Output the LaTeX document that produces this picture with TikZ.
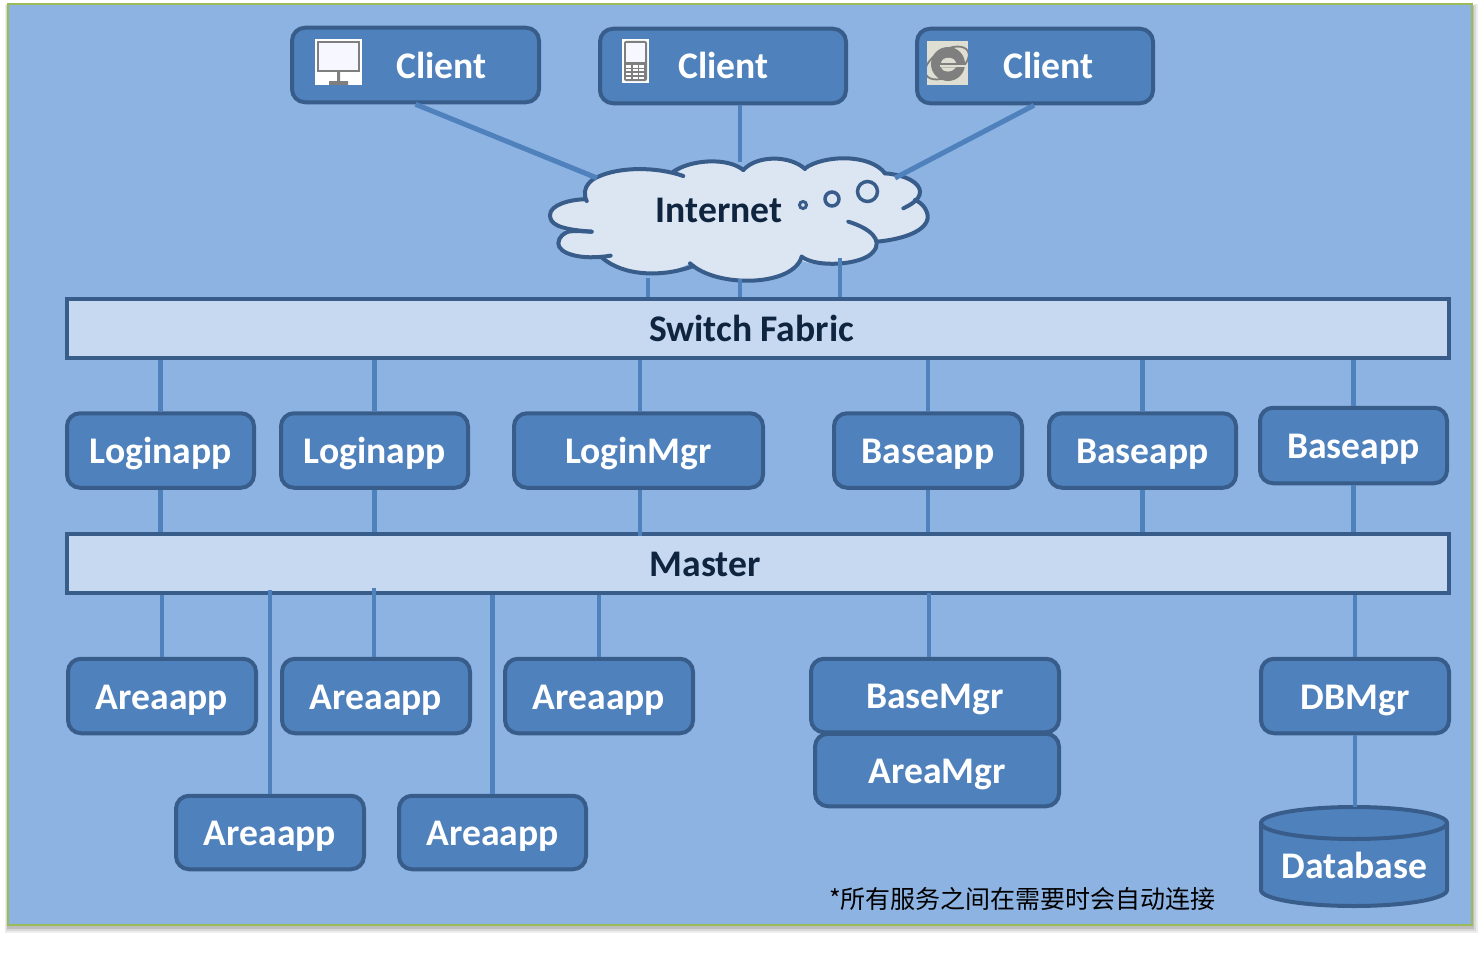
\documentclass[tikz,border=0pt]{standalone}
\usepackage{fontspec}
\setmainfont{Carlito}
\newfontfamily\cjkfont{Noto Sans CJK SC}
\definecolor{bgfill}{HTML}{8DB3E2}
\definecolor{bgline}{HTML}{9BBB59}
\definecolor{boxfill}{HTML}{4F81BD}
\definecolor{boxline}{HTML}{385D8A}
\definecolor{barfill}{HTML}{C6D9F1}
\definecolor{darktext}{HTML}{0F243E}
\definecolor{cloudfill}{HTML}{DCE6F2}
\definecolor{icongray}{HTML}{7F7F7F}
\definecolor{iconback}{HTML}{DEDED2}
\tikzset{
  lbl/.style={font=\fontsize{37.6}{40}\selectfont\bfseries,text height=26.5pt,text depth=0pt,inner sep=0pt},
  srv/.style={lbl,draw=boxline,fill=boxfill,line width=4pt,rounded corners=13pt,text=white,align=center},
  bar/.style={lbl,draw=boxline,fill=barfill,line width=4pt,text=darktext,minimum width=1382pt,minimum height=59pt},
  link/.style={draw=boxfill,line width=4.5pt},
  cloudline/.style={draw=boxline,line width=4pt,line cap=round},
}
\newcommand{\srvnode}[5]{\node[srv,minimum width=#3pt+1.5pt,minimum height=#4pt+2pt] (#1) at (#2) {#5};}
\begin{document}
\begin{tikzpicture}[x=1pt,y=-1pt]
\useasboundingbox (0,0) rectangle (1480,966);
% panel
\fill[black,opacity=.07] (5,4) rectangle (1478,933);
\fill[black,opacity=.09] (6,5) rectangle (1476,931);
\fill[black,opacity=.12] (7,6) rectangle (1474,929);
\draw[draw=bgline,fill=bgfill,line width=2.5pt] (8,4) rectangle (1472,925);
% named nodes
\node[bar] (sw) at (758,328.5) {};
\node[lbl,text=darktext] (swt) at (751.5,328.5) {Switch Fabric};
\node[bar] (ms) at (758,563.5) {};
\node[lbl,text=darktext] (mst) at (705,563.5) {Master};
\srvnode{c1}{415.5,65}{245.5}{72.5}{}
\srvnode{c2}{723,66}{244.5}{72.5}{}
\srvnode{c3}{1035,66}{234.5}{72.5}{}
\node[lbl,text=white] (c1t) at (441.5,65) {Client};
\node[lbl,text=white] (c2t) at (723.5,65) {Client};
\node[lbl,text=white] (c3t) at (1048.5,65) {Client};
\srvnode{l1}{160.5,450.5}{185.5}{72.5}{Loginapp}
\srvnode{l2}{374.5,450.5}{185.5}{72.5}{Loginapp}
\srvnode{lm}{638.5,450.5}{247.5}{72.5}{LoginMgr}
\srvnode{b1}{928,450.5}{186.5}{72.5}{Baseapp}
\srvnode{b2}{1142.5,450.5}{185.5}{72.5}{Baseapp}
\srvnode{b3}{1353.5,445.5}{185.5}{73.5}{Baseapp}
\srvnode{a1}{162,696}{186.5}{72.5}{Areaapp}
\srvnode{a2}{376,696}{186.5}{72.5}{Areaapp}
\srvnode{a3}{599,696}{186.5}{72.5}{Areaapp}
\srvnode{a4}{270,832.5}{186.5}{71.5}{Areaapp}
\srvnode{a5}{492.5,832.5}{185.5}{71.5}{Areaapp}
\srvnode{am}{937,770}{242.5}{70.5}{AreaMgr}
\srvnode{bm}{935,695.5}{246.5}{71.5}{BaseMgr}
\srvnode{dm}{1355,696}{186.5}{72.5}{DBMgr}
% database
\coordinate (dbtop) at (1354,807);
\draw[draw=boxline,fill=boxfill,line width=4pt] (1261,823) arc[x radius=93,y radius=16,start angle=180,end angle=360] -- (1447,890) arc[x radius=93,y radius=16,start angle=0,end angle=180] -- cycle;
\draw[draw=boxline,line width=4pt] (1261,823) arc[x radius=93,y radius=16,start angle=180,end angle=0];
\node[lbl,text=white] (db) at (1354.5,865) {Database};
% cloud
\begin{scope}[shift={(530,140)},x=.33333pt,y=-.33333pt]
\fill[cloudfill] (165,182) .. controls (150,140) and (190,115) .. (205,110) .. controls (270,80) and (380,80) .. (440,100)
 .. controls (480,60) and (590,50) .. (640,90) .. controls (680,45) and (780,45) .. (830,85)
 .. controls (880,45) and (1020,40) .. (1065,100) .. controls (1130,105) and (1170,130) .. (1170,155)
 .. controls (1170,165) and (1165,175) .. (1155,180)
 .. controls (1180,190) and (1195,215) .. (1193,235) .. controls (1185,280) and (1100,300) .. (1040,305)
 .. controls (1040,320) and (1035,330) .. (1030,335)
 .. controls (1000,375) and (860,385) .. (810,360) .. controls (790,440) and (560,445) .. (480,370)
 .. controls (400,412) and (280,410) .. (215,352) .. controls (150,362) and (85,340) .. (85,310)
 .. controls (85,290) and (105,278) .. (115,275) .. controls (80,265) and (60,250) .. (60,225)
 .. controls (60,195) and (120,178) .. (165,178) -- cycle;
\draw[cloudline] (170,183) .. controls (150,140) and (190,115) .. (205,110) .. controls (270,80) and (380,80) .. (460,108);
\draw[cloudline] (430,95) .. controls (480,60) and (590,50) .. (640,90);
\draw[cloudline] (640,90) .. controls (680,45) and (780,45) .. (825,87);
\draw[cloudline] (825,85) .. controls (880,45) and (1020,40) .. (1065,100);
\draw[cloudline] (1065,100) .. controls (1130,105) and (1170,130) .. (1170,155) .. controls (1170,180) and (1140,195) .. (1120,205);
\draw[cloudline] (1155,180) .. controls (1180,190) and (1195,215) .. (1193,235) .. controls (1185,280) and (1100,300) .. (1040,305);
\draw[cloudline] (955,245) .. controls (1020,265) and (1060,300) .. (1030,335) .. controls (1000,375) and (860,385) .. (815,350);
\draw[cloudline] (815,350) .. controls (790,440) and (560,445) .. (480,370);
\draw[cloudline] (490,378) .. controls (400,412) and (280,410) .. (215,352);
\draw[cloudline] (242,347) .. controls (150,362) and (85,340) .. (85,310) .. controls (85,290) and (105,278) .. (115,275) .. controls (130,272) and (160,274) .. (185,275);
\draw[cloudline] (185,275) .. controls (80,268) and (60,250) .. (60,225) .. controls (60,195) and (120,178) .. (165,178);
\end{scope}
\node[lbl,text=darktext] (net) at (719,209) {Internet};
\draw[boxline,line width=3pt] (803,205) circle[radius=3.5];
\draw[boxline,line width=3.5pt] (832,199) circle[radius=7];
\draw[boxline,line width=3.5pt] (867.5,191.5) circle[radius=10];
\coordinate (cl) at (597,178);
\coordinate (ct) at (740,162);
\coordinate (cr) at (895,178);
\coordinate (cb1) at (648,278);
\coordinate (cb2) at (740,279);
\coordinate (cb3) at (840,258);
% connectors
\draw[link,line width=5pt] (c1.south) -- (cl);
\draw[link] (c2.south -| ct) -- (ct);
\draw[link,line width=5pt] ([xshift=-1pt]c3.south) -- (cr);
\draw[link] (cb1) -- (cb1 |- sw.north);
\draw[link] (cb2) -- (cb2 |- sw.north);
\draw[link] (cb3) -- (cb3 |- sw.north);
\foreach \n in {l1,l2,b1,b2,b3}{
  \draw[link] (sw.south -| \n.north) -- (\n.north);
  \draw[link] (\n.south) -- (ms.north -| \n.south);
}
\draw[link] (sw.south -| lm.north) ++(1.5,0) -- ([xshift=1.5pt]lm.north);
\draw[link] ([xshift=1.5pt]lm.south) -- ++(0,46);
\foreach \n in {a1,a3}{ \draw[link] (ms.south -| \n.north) -- (\n.north); }
\draw[link] ([xshift=-2pt]a2.north) -- ++(0,-69);
\draw[link] ([yshift=5pt]ms.south -| a4.north) -- (a4.north);
\draw[link] (ms.south -| a5.north) -- (a5.north);
\draw[link] ([xshift=-6pt]bm.north) -- ++(0,-64);
\draw[link] (ms.south -| dm.north) -- (dm.north);
\draw[link] (dm.south) -- (dm.south |- dbtop);
% monitor icon
\fill[white] (315,39) rectangle (362,85);
\draw[icongray,fill=white!97!blue,line width=2.5pt] (318,42) rectangle (359,71);
\fill[icongray] (337,72) rectangle (340,81) (329,81) rectangle (348,85);
% phone icon
\fill[white] (622,39) rectangle (649,83);
\fill[icongray,rounded corners=2pt] (624,41) rectangle (647,81);
\fill[white!97!blue] (626,43) rectangle (645,62);
\foreach \r in {0,1,2,3}\foreach \c in {0,1,2}{
  \fill[white] ({626+\c*6.6},{65+\r*3.9}) rectangle ++(5,2.6);
}
% browser icon
\fill[iconback] (927,41) rectangle (968,85);
\begin{scope}
\clip (927,41) rectangle (968,85);
\draw[icongray,line width=1.8pt,rotate around={30:(947,63)}] (947,63) ellipse[x radius=24,y radius=13];
\fill[icongray] (948,64) circle[radius=17];
\fill[iconback] (941,63) .. controls (942,56) and (955,56) .. (956,63) -- cycle;
\fill[iconback] (940,65) rectangle (966,67.5);
\fill[iconback] (941,67.5) .. controls (943,73) and (952,73) .. (956,67.5) -- cycle;
\end{scope}
% note
\node[anchor=west,inner sep=0pt,font=\fontsize{25}{28}\selectfont\cjkfont,text=black] (note) at (829,899) {*所有服务之间在需要时会自动连接};
\end{tikzpicture}
\end{document}
